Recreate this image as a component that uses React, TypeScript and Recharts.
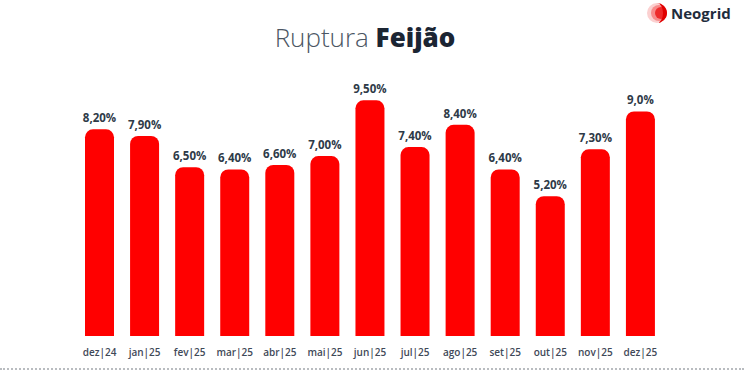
import { BarChart, Bar, XAxis, YAxis, LabelList } from 'recharts'

// months shown under the bars
const months = [
  'dez|24', 'jan|25', 'fev|25', 'mar|25', 'abr|25', 'mai|25', 'jun|25',
  'jul|25', 'ago|25', 'set|25', 'out|25', 'nov|25', 'dez|25',
]
// stock-out rate, in %
const rupture = [8.2, 7.9, 6.5, 6.4, 6.6, 7.0, 9.5, 7.4, 8.4, 6.4, 5.2, 7.3, 9.0]
// labels as printed above each bar
const valueLabels = [
  '8,20%', '7,90%', '6,50%', '6,40%', '6,60%', '7,00%', '9,50%',
  '7,40%', '8,40%', '6,40%', '5,20%', '7,30%', '9,0%',
]

// the bars in the source do not start at zero
const AXIS_MIN = -1.07
const AXIS_MAX = 10.41

const data = months.map((m, i) => ({ month: m, value: rupture[i] }))

const FONT = '"Open Sans", Lato, sans-serif'

function TopLabel(props: any) {
  const { x, y, width, index } = props
  return (
    <text
      x={x + width / 2} y={y - 7} textAnchor="middle"
      fontFamily={FONT} fontSize={11.5} fontWeight={700} fill="#2e3a48"
    >
      {valueLabels[index]}
    </text>
  )
}

function Logo() {
  return (
    <div style={{ position: 'absolute', left: 646, top: 2, display: 'flex', alignItems: 'center' }}>
      <svg width={22} height={22} viewBox="0 0 22 22">
        <circle cx={11} cy={11} r={10} fill="#fbd0d0" />
        <circle cx={13} cy={11} r={8} fill="#f78a8a" />
        <circle cx={15} cy={11} r={6} fill="#ee2a2a" />
        <path d="M11 1 A10 10 0 0 1 11 21 A6 10 0 0 0 11 1 Z" fill="#e00000" />
      </svg>
      <span style={{
        fontFamily: FONT, fontWeight: 700, fontSize: 15, color: '#1f2d3d', marginLeft: 3,
      }}>
        Neogrid
      </span>
    </div>
  )
}

export default function App() {
  return (
    <div style={{
      position: 'fixed', left: 0, top: 0, width: 748, height: 372,
      background: '#fff', overflow: 'hidden',
    }}>
      <div style={{
        position: 'absolute', left: 0, width: 730, top: 22, textAlign: 'center',
        fontFamily: FONT, fontSize: 26, color: '#4b5663', fontWeight: 300,
        lineHeight: '30px',
      }}>
        Ruptura <span style={{ fontWeight: 800, color: '#1b2533' }}>Feijão</span>
      </div>
      <Logo />
      <BarChart
        width={748} height={372} data={data}
        margin={{ top: 80, right: 85, bottom: 0, left: 77 }}
        barCategoryGap={16}
      >
        <XAxis
          dataKey="month" axisLine={false} tickLine={false} height={36}
          interval={0} tickMargin={7}
          tick={{ fontFamily: FONT, fontSize: 10, fontWeight: 600, fill: '#3f4958' }}
        />
        <YAxis hide domain={[AXIS_MIN, AXIS_MAX]} allowDataOverflow />
        <Bar
          dataKey={(d: { value: number }) => [AXIS_MIN, d.value]}
          fill="#ff0000" barSize={29} radius={[8, 8, 0, 0]}
          isAnimationActive={false}
        >
          <LabelList content={<TopLabel />} />
        </Bar>
      </BarChart>
      <div style={{
        position: 'absolute', left: 0, right: 4, top: 368,
        borderTop: '2px dotted #b9bcc0',
      }} />
    </div>
  )
}
